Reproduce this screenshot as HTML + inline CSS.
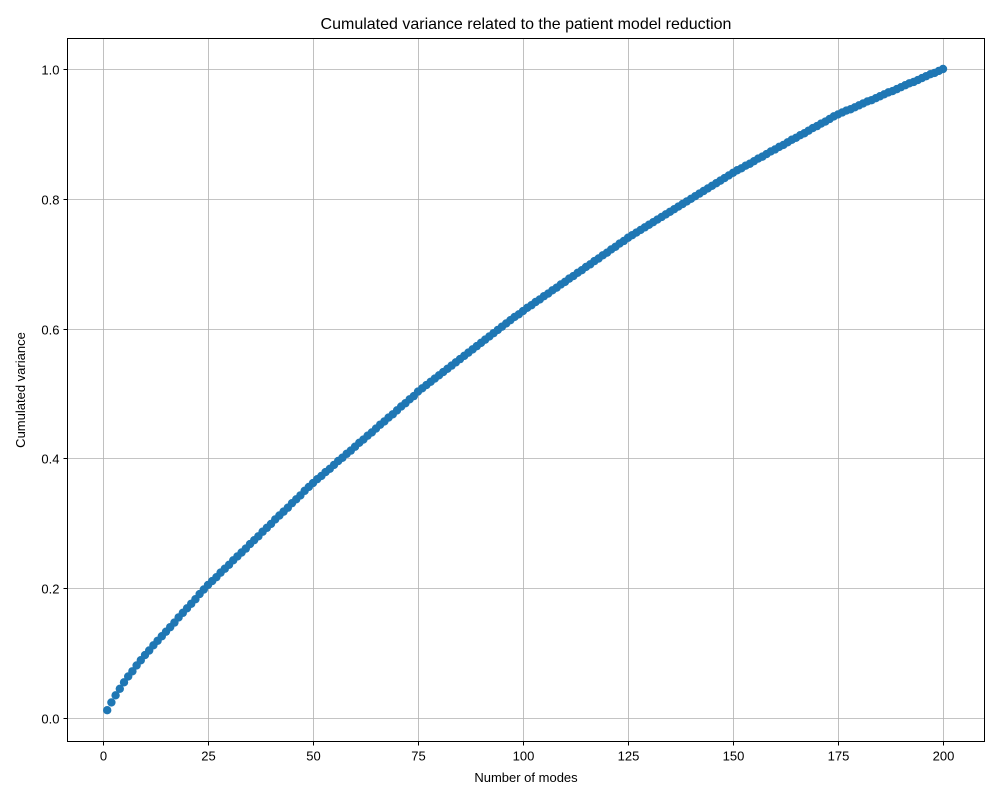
<!DOCTYPE html>
<html><head><meta charset="utf-8"><style>
body{margin:0;background:#fff;font-family:"Liberation Sans","DejaVu Sans",sans-serif;}
svg text{font-family:"Liberation Sans","DejaVu Sans",sans-serif;fill:#000;}
</style></head><body>
<svg id="chart" width="1000" height="800" viewBox="0 0 1000 800">
<rect width="1000" height="800" fill="#fff"/>
<text x="526" y="29" font-size="16" text-anchor="middle">Cumulated variance related to the patient model reduction</text>
<text x="526" y="782" font-size="13" text-anchor="middle">Number of modes</text>
<text transform="translate(25,390) rotate(-90)" font-size="13" text-anchor="middle">Cumulated variance</text>
<g id="grid"></g><g id="ticks"></g><g id="marks"></g>
<rect x="67.5" y="38.5" width="917" height="703" fill="none" stroke="#000" stroke-width="1"/>
</svg>
<script>
const xTicks=[0,25,50,75,100,125,150,175,200];
const yTicks=[0.0,0.2,0.4,0.6,0.8,1.0];
const values=[.012,.024,.035,.045,.055,.064,.072,.081,.089,.097,
.104,.112,.119,.126,.133,.140,.147,.155,.162,.169,.176,.183,.191,.198,.205,
.211,.217,.224,.230,.236,.243,.249,.255,.261,.268,.274,.280,.287,.293,.299,.306,.312,.318,.324,.331,.337,.343,.350,.356,.362,
.368,.373,.379,.384,.390,.396,.401,.407,.412,.418,.424,.429,.435,.440,.446,.452,.457,.463,.468,.474,.480,.485,.491,.496,.503,
.508,.513,.518,.523,.528,.533,.538,.543,.548,.553,.558,.563,.568,.573,.578,.583,.588,.593,.598,.603,.608,.613,.618,.622,.627,
.632,.636,.641,.645,.650,.654,.659,.663,.668,.672,.677,.681,.686,.690,.695,.699,.704,.708,.713,.717,.722,.726,.731,.735,.740,
.744,.748,.752,.756,.760,.764,.768,.772,.776,.780,.784,.788,.792,.796,.800,.804,.808,.812,.816,.820,.824,.828,.832,.836,.840,
.844,.847,.851,.854,.858,.862,.865,.869,.873,.876,.880,.883,.887,.891,.894,.898,.901,.905,.909,.912,.916,.919,.923,.927,.930,
.933,.936,.938,.941,.944,.947,.950,.952,.955,.958,.961,.964,.966,.969,.972,.975,.978,.980,.983,.986,.989,.992,.994,.997,1.000];
const NS="http://www.w3.org/2000/svg";
const X=v=>103+v*4.2, Y=v=>718-v*649;
const L=67.5,R=984.5,T=38.5,B=741.5;
function mk(p,t,a){const e=document.createElementNS(NS,t);for(const k in a)e.setAttribute(k,a[k]);p.appendChild(e);return e;}
const g=document.getElementById('grid'),tk=document.getElementById('ticks'),m=document.getElementById('marks');
xTicks.forEach(v=>{const x=Math.round(X(v))+.5;
const l=mk(g,'line',{x1:x,x2:x,y1:T,y2:B,stroke:'#b0b0b0','stroke-width':0.8});


mk(tk,'line',{x1:x,x2:x,y1:B,y2:B+4,stroke:'#000'});
const t=mk(tk,'text',{x:x,y:B+19,'font-size':13,'text-anchor':'middle'});t.textContent=v;

});
yTicks.forEach(v=>{const y=Math.round(Y(v))+.5;
const l=mk(g,'line',{x1:L,x2:R,y1:y,y2:y,stroke:'#b0b0b0','stroke-width':0.8});


mk(tk,'line',{x1:L-4,x2:L,y1:y,y2:y,stroke:'#000'});
const t=mk(tk,'text',{x:L-8,y:y+5,'font-size':13,'text-anchor':'end'});t.textContent=v.toFixed(1);

});
values.forEach((v,i)=>{const c=mk(m,'circle',{cx:X(i+1),cy:Y(v),r:4.2,fill:'#1f77b4'});

});
</script>
</body></html>
